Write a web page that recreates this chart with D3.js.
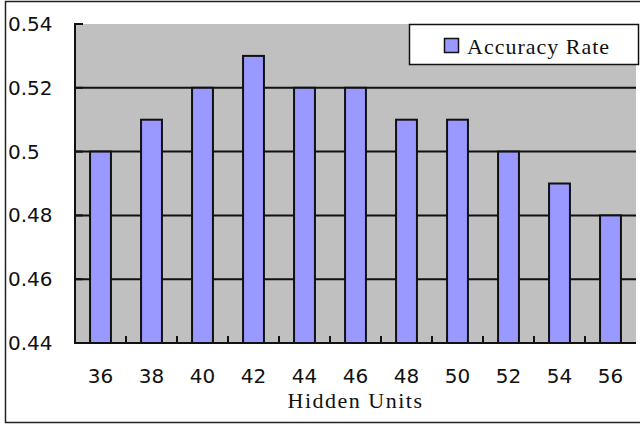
<!DOCTYPE html>
<html>
<head>
<meta charset="utf-8">
<script src="https://cdn.jsdelivr.net/npm/d3@7/dist/d3.min.js"></script>
<style>
  html, body { margin: 0; padding: 0; background: #fff; }
  svg { display: block; }
</style>
</head>
<body>
<svg id="chart" width="640" height="425"></svg>
<script>
// Accuracy rate for each number of hidden units
const hiddenUnits = ["36", "38", "40", "42", "44", "46", "48", "50", "52", "54", "56"];
const accuracyRate = [0.50, 0.51, 0.52, 0.53, 0.52, 0.52, 0.51, 0.51, 0.50, 0.49, 0.48];
const yTicks = [0.44, 0.46, 0.48, 0.50, 0.52, 0.54];
const yTickLabels = ["0.44", "0.46", "0.48", "0.5", "0.52", "0.54"];
const seriesName = "Accuracy Rate";
const xTitle = "Hidden Units";

const svg = d3.select("#chart");
const plot = { left: 75, top: 24, right: 636, bottom: 343 };

const x = d3.scaleBand().domain(hiddenUnits).range([plot.left, plot.right]).padding(0);
const y = d3.scaleLinear().domain([0.44, 0.54]).range([plot.bottom, plot.top]);

// outer frame
svg.append("rect")
  .attr("x", 5.5).attr("y", 1.5).attr("width", 640).attr("height", 421)
  .attr("fill", "#fff").attr("stroke", "#222").attr("stroke-width", 1.5);

// plot background
svg.append("rect")
  .attr("x", plot.left).attr("y", plot.top)
  .attr("width", plot.right - plot.left).attr("height", plot.bottom - plot.top)
  .attr("fill", "#c0c0c0");

// horizontal gridlines
svg.append("g").selectAll("line")
  .data(yTicks.filter(t => t > 0.44 && t < 0.54))
  .join("line")
  .attr("x1", plot.left).attr("x2", plot.right)
  .attr("y1", d => y(d)).attr("y2", d => y(d))
  .attr("stroke", "#111").attr("stroke-width", 2);

// bars
const barW = x.bandwidth() * 0.41;
svg.append("g").selectAll("rect")
  .data(hiddenUnits.map((u, i) => ({ u, v: accuracyRate[i] })))
  .join("rect")
  .attr("x", d => x(d.u) + (x.bandwidth() - barW) / 2)
  .attr("y", d => y(d.v))
  .attr("width", barW)
  .attr("height", d => y(0.44) - y(d.v))
  .attr("fill", "#9999ff")
  .attr("stroke", "#111").attr("stroke-width", 2);

// x axis line and category separator ticks (pointing inward)
svg.append("line")
  .attr("x1", plot.left).attr("x2", plot.right)
  .attr("y1", plot.bottom).attr("y2", plot.bottom)
  .attr("stroke", "#111").attr("stroke-width", 2);
svg.append("g").selectAll("line")
  .data(hiddenUnits.slice(1))
  .join("line")
  .attr("x1", d => x(d)).attr("x2", d => x(d))
  .attr("y1", plot.bottom).attr("y2", plot.bottom - 7)
  .attr("stroke", "#111").attr("stroke-width", 2);

// y axis line and ticks (pointing inward)
svg.append("line")
  .attr("x1", plot.left).attr("x2", plot.left)
  .attr("y1", plot.top - 1).attr("y2", plot.bottom + 1)
  .attr("stroke", "#111").attr("stroke-width", 2);
svg.append("g").selectAll("line")
  .data(yTicks)
  .join("line")
  .attr("x1", plot.left).attr("x2", plot.left + 8)
  .attr("y1", d => y(d)).attr("y2", d => y(d))
  .attr("stroke", "#111").attr("stroke-width", 2);

// y tick labels
svg.append("g").selectAll("text")
  .data(yTicks)
  .join("text")
  .attr("x", 8)
  .attr("y", d => y(d) + 7)
  .attr("font-family", "DejaVu Sans")
  .attr("font-size", 20)
  .attr("fill", "#111")
  .text((d, i) => yTickLabels[i]);

// x tick labels
svg.append("g").selectAll("text")
  .data(hiddenUnits)
  .join("text")
  .attr("x", d => x(d) + x.bandwidth() / 2)
  .attr("y", 383)
  .attr("text-anchor", "middle")
  .attr("font-family", "DejaVu Sans")
  .attr("font-size", 20)
  .attr("fill", "#111")
  .text(d => d);

// x axis title
svg.append("text")
  .attr("x", (plot.left + plot.right) / 2)
  .attr("y", 408)
  .attr("text-anchor", "middle")
  .attr("font-family", "Liberation Serif")
  .attr("font-size", 22)
  .attr("letter-spacing", 1.5)
  .attr("fill", "#111")
  .text(xTitle);

// legend
const legend = svg.append("g");
legend.append("rect")
  .attr("x", 409.5).attr("y", 24.5).attr("width", 229).attr("height", 40)
  .attr("fill", "#fff").attr("stroke", "#111").attr("stroke-width", 1.5);
legend.append("rect")
  .attr("x", 444.5).attr("y", 38.5).attr("width", 14).attr("height", 14)
  .attr("fill", "#9999ff").attr("stroke", "#111").attr("stroke-width", 1.5);
legend.append("text")
  .attr("x", 467).attr("y", 54)
  .attr("font-family", "Liberation Serif")
  .attr("font-size", 22)
  .attr("letter-spacing", 1)
  .attr("fill", "#111")
  .text(seriesName);
</script>
</body>
</html>
